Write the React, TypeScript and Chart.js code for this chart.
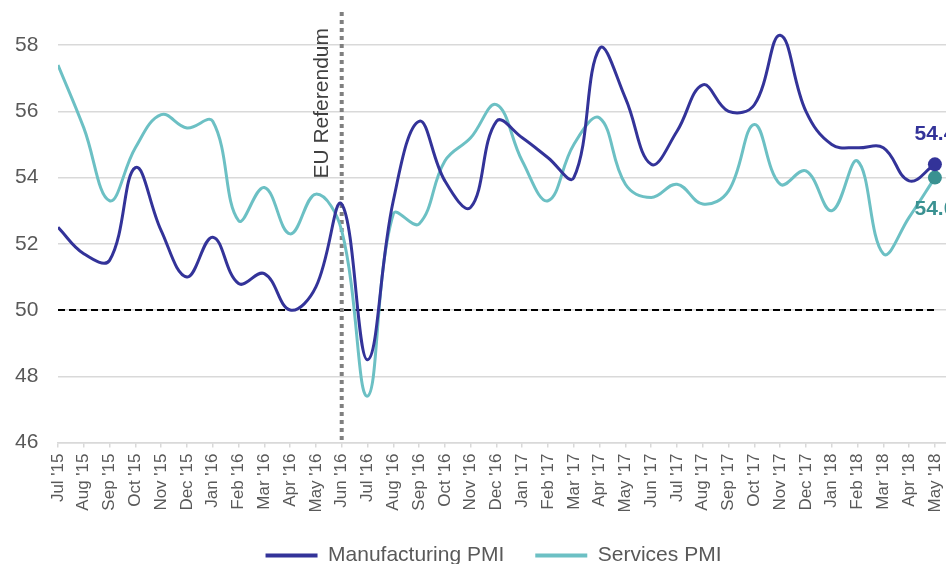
import React, { useEffect, useRef } from "react";
import { Chart, registerables } from "chart.js";

Chart.register(...registerables);

const categories = [
  "Jul '15", "Aug '15", "Sep '15", "Oct '15", "Nov '15", "Dec '15",
  "Jan '16", "Feb '16", "Mar '16", "Apr '16", "May '16", "Jun '16",
  "Jul '16", "Aug '16", "Sep '16", "Oct '16", "Nov '16", "Dec '16",
  "Jan '17", "Feb '17", "Mar '17", "Apr '17", "May '17", "Jun '17",
  "Jul '17", "Aug '17", "Sep '17", "Oct '17", "Nov '17", "Dec '17",
  "Jan '18", "Feb '18", "Mar '18", "Apr '18", "May '18",
];

const manufacturingPMI = [
  52.5, 51.7, 51.5, 54.3, 52.4, 51.0,
  52.2, 50.8, 51.1, 50.0, 50.7, 53.2,
  48.5, 53.3, 55.7, 53.9, 53.1, 55.7,
  55.2, 54.6, 54.0, 57.9, 56.4, 54.4,
  55.4, 56.8, 56.0, 56.2, 58.3, 56.0,
  55.0, 54.9, 54.9, 53.9, 54.4,
];

const servicesPMI = [
  57.4, 55.5, 53.3, 54.9, 55.9, 55.5,
  55.7, 52.7, 53.7, 52.3, 53.5, 52.4,
  47.4, 52.9, 52.6, 54.5, 55.2, 56.2,
  54.5, 53.3, 55.0, 55.8, 53.8, 53.4,
  53.8, 53.2, 53.6, 55.6, 53.8, 54.2,
  53.0, 54.5, 51.7, 52.8, 54.0,
];

const threshold = 50;
const referendumIndex = 11;
const referendumLabel = "EU Referendum";
const yTicks = [46, 48, 50, 52, 54, 56, 58];
const seriesNames = ["Manufacturing PMI", "Services PMI"];

const FONT = "'Liberation Sans', Arial, Helvetica, sans-serif";
const NAVY = "#333399";
const TEAL = "#6cc0c4";
const DARK_TEAL = "#3a9191";
const GREY_TEXT = "#595959";

const W = 946;
const H = 576;

const annotationPlugin = {
  id: "pmiAnnotations",
  beforeDatasetsDraw(chart: any) {
    const { ctx, chartArea, scales } = chart;
    const x = scales.x.getPixelForValue(referendumIndex);
    ctx.save();
    ctx.strokeStyle = "#808080";
    ctx.lineWidth = 4;
    ctx.setLineDash([4, 4]);
    ctx.beginPath();
    ctx.moveTo(x, chartArea.top);
    ctx.lineTo(x, chartArea.bottom);
    ctx.stroke();
    ctx.setLineDash([]);
    ctx.translate(x - 14, chartArea.top + 16);
    ctx.rotate(-Math.PI / 2);
    ctx.font = `21px ${FONT}`;
    ctx.fillStyle = "#404040";
    ctx.textAlign = "right";
    ctx.textBaseline = "alphabetic";
    ctx.fillText(referendumLabel, 0, 0);
    ctx.restore();
  },
  afterDatasetsDraw(chart: any) {
    const { ctx } = chart;
    const last = categories.length - 1;
    const series = [manufacturingPMI, servicesPMI];
    const colors = [NAVY, DARK_TEAL];
    const offsets = [-30, 32];
    ctx.save();
    ctx.font = `bold 21px ${FONT}`;
    ctx.textAlign = "center";
    ctx.textBaseline = "middle";
    [0, 1].forEach((di) => {
      const meta = chart.getDatasetMeta(di);
      const pt = meta.data[last];
      if (!pt) return;
      ctx.fillStyle = colors[di];
      ctx.fillText(series[di][last].toFixed(1), pt.x, pt.y + offsets[di]);
    });
    ctx.restore();
  },
};

export default function App() {
  const canvasRef = useRef<HTMLCanvasElement | null>(null);

  useEffect(() => {
    const canvas = canvasRef.current;
    if (!canvas) return;
    const last = categories.length - 1;
    Chart.defaults.font.family = FONT;

    const chart = new Chart(canvas, {
      type: "line",
      data: {
        datasets: [
          {
            label: seriesNames[0],
            data: manufacturingPMI.map((v, i) => ({ x: i, y: v })),
            borderColor: NAVY,
            backgroundColor: NAVY,
            borderWidth: 3,
            tension: 0.4,
            pointRadius: manufacturingPMI.map((_, i) => (i === last ? 7 : 0)),
            pointBackgroundColor: NAVY,
            pointBorderColor: NAVY,
            pointBorderWidth: 0,
            order: 1,
          },
          {
            label: seriesNames[1],
            data: servicesPMI.map((v, i) => ({ x: i, y: v })),
            borderColor: TEAL,
            backgroundColor: TEAL,
            borderWidth: 3,
            tension: 0.4,
            pointRadius: servicesPMI.map((_, i) => (i === last ? 7 : 0)),
            pointBackgroundColor: DARK_TEAL,
            pointBorderColor: DARK_TEAL,
            pointBorderWidth: 0,
            order: 2,
          },
          {
            label: "50",
            data: categories.map((_, i) => ({ x: i, y: threshold })),
            borderColor: "#000000",
            backgroundColor: "#000000",
            borderWidth: 2,
            borderDash: [7, 4],
            pointRadius: 0,
            tension: 0,
            order: 3,
          },
        ],
      },
      options: {
        animation: false,
        responsive: false,
        maintainAspectRatio: false,
        layout: {
          autoPadding: false,
          padding: { top: 12, left: 41, right: 0, bottom: 0 },
        },
        plugins: {
          tooltip: { enabled: false },
          legend: {
            position: "bottom",
            labels: {
              boxWidth: 52,
              boxHeight: 4,
              padding: 31,
              color: GREY_TEXT,
              font: { size: 21, family: FONT },
              generateLabels: (c: any) =>
                Chart.defaults.plugins.legend.labels
                  .generateLabels(c)
                  .filter((l: any) => l.datasetIndex < 2)
                  .map((l: any) => ({ ...l, lineWidth: 0 })),
            },
          },
        },
        scales: {
          x: {
            type: "linear",
            min: 0,
            max: 34.43,
            afterBuildTicks: (scale: any) => {
              scale.ticks = categories.map((_, i) => ({ value: i }));
            },
            afterFit: (scale: any) => {
              scale.height = 71.5;
              scale.paddingLeft = 0;
              scale.paddingRight = 0;
            },
            grid: {
              display: true,
              drawOnChartArea: false,
              drawTicks: true,
              tickLength: 5,
              color: "#d9d9d9",
              lineWidth: 1.5,
            },
            border: { display: true, color: "#d9d9d9", width: 1.5 },
            ticks: {
              autoSkip: false,
              minRotation: 90,
              maxRotation: 90,
              padding: 6,
              color: GREY_TEXT,
              font: { size: 17, family: FONT },
              callback: (value: any) => categories[Math.round(Number(value))] ?? "",
            },
          },
          y: {
            type: "linear",
            min: 46,
            max: 59,
            afterBuildTicks: (scale: any) => {
              scale.ticks = yTicks.map((v) => ({ value: v }));
            },
            afterFit: (scale: any) => {
              scale.width = 17;
              scale.paddingTop = 0;
              scale.paddingBottom = 0;
            },
            grid: {
              color: "#d9d9d9",
              lineWidth: 1.5,
              drawTicks: false,
            },
            border: { display: false },
            ticks: {
              mirror: true,
              padding: -43,
              color: GREY_TEXT,
              font: { size: 21, family: FONT },
            },
          },
        },
      },
      plugins: [annotationPlugin],
    } as any);

    return () => {
      chart.destroy();
    };
  }, []);

  return (
    <div
      style={{
        position: "fixed",
        left: 0,
        top: 0,
        width: W,
        height: H,
        background: "#ffffff",
      }}
    >
      <canvas ref={canvasRef} width={W} height={H} style={{ display: "block" }} />
    </div>
  );
}
